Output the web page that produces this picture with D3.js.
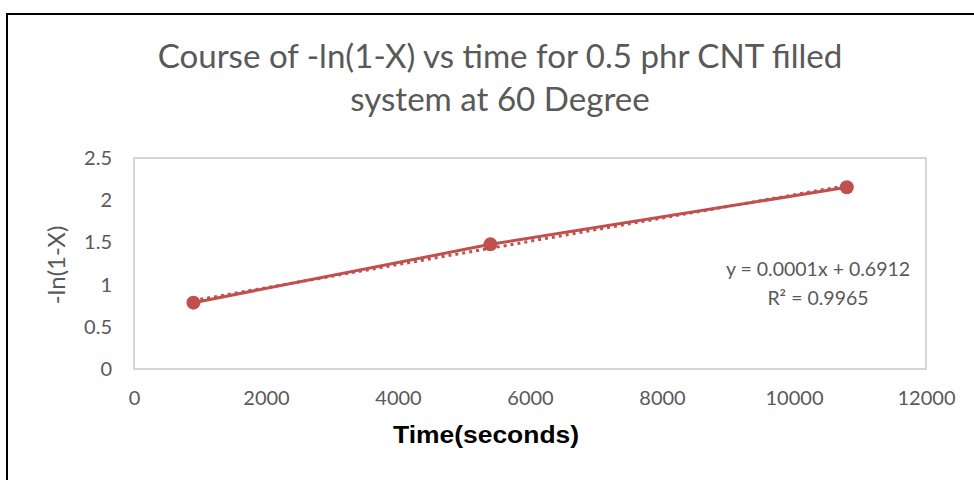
<!DOCTYPE html>
<html>
<head>
<meta charset="utf-8">
<script src="https://cdn.jsdelivr.net/npm/d3@7"></script>
<style>
  body { margin: 0; background: #fff; }
  svg { display: block; }
</style>
</head>
<body>
<svg id="chart" width="974" height="480"></svg>
<script>
const titleLines = ['Course of -ln(1-X) vs time for 0.5 phr CNT filled', 'system at 60 Degree'];
const timeSeconds = [900, 5400, 10800];
const lnValues = [0.786, 1.477, 2.153];
const xTicks = [0, 2000, 4000, 6000, 8000, 10000, 12000];
const yTicks = [0, 0.5, 1, 1.5, 2, 2.5];
const trendLabels = ['y = 0.0001x + 0.6912', 'R² = 0.9965'];

const red = '#C0504D';
const grey = '#595959';
const font = 'Lato, "Open Sans", sans-serif';

const svg = d3.select('#chart');
const plot = { left: 134, top: 158, right: 926, bottom: 369 };

// chart border
svg.append('rect')
    .attr('x', 7).attr('y', 14)
    .attr('width', 1000).attr('height', 500)
    .attr('fill', '#fff')
    .attr('stroke', '#000')
    .attr('stroke-width', 2);

const x = d3.scaleLinear().domain([0, 12000]).range([plot.left, plot.right]);
const y = d3.scaleLinear().domain([0, 2.5]).range([plot.bottom, plot.top]);

// plot area border
svg.append('rect')
    .attr('x', plot.left).attr('y', plot.top)
    .attr('width', plot.right - plot.left)
    .attr('height', plot.bottom - plot.top)
    .attr('fill', 'none')
    .attr('stroke', '#c8c8c8')
    .attr('stroke-width', 1.5);

// title, sized so line one spans about the same width as the original
const probe = svg.append('text')
    .attr('font-family', font)
    .attr('font-size', 100)
    .text(titleLines[0]);
const titleSize = 100 * 685 / probe.node().getComputedTextLength();
probe.remove();

svg.selectAll('.title')
    .data(titleLines)
    .enter().append('text')
    .attr('class', 'title')
    .attr('x', 500)
    .attr('y', (d, i) => 68 + i * 43)
    .attr('text-anchor', 'middle')
    .attr('font-family', font)
    .attr('font-size', titleSize)
    .attr('fill', grey)
    .text(d => d);

// axes
const xAxis = svg.append('g')
    .attr('transform', `translate(0,${plot.bottom})`)
    .call(d3.axisBottom(x).tickValues(xTicks).tickSize(0).tickPadding(22).tickFormat(d3.format('d')));
const yAxis = svg.append('g')
    .attr('transform', `translate(${plot.left},0)`)
    .call(d3.axisLeft(y).tickValues(yTicks).tickSize(0).tickPadding(22).tickFormat(d => String(d)));

[xAxis, yAxis].forEach(a => {
    a.select('.domain').remove();
    a.selectAll('text')
        .attr('font-family', font)
        .attr('font-size', 20)
        .attr('fill', grey);
});

// axis titles (x title is a little stretched in the original)
svg.append('text')
    .attr('transform', 'translate(486,443) scale(1.15,1)')
    .attr('text-anchor', 'middle')
    .attr('font-family', '"Liberation Sans", Arial, sans-serif')
    .attr('font-weight', 'bold')
    .attr('font-size', 23)
    .attr('fill', '#000')
    .text('Time(seconds)');

svg.append('text')
    .attr('transform', 'translate(65,265) rotate(-90)')
    .attr('text-anchor', 'middle')
    .attr('font-family', font)
    .attr('font-size', 24)
    .attr('fill', grey)
    .text('-ln(1-X)');

// linear trendline from least squares
const pts = timeSeconds.map((t, i) => [t, lnValues[i]]);
const mx = d3.mean(timeSeconds), my = d3.mean(lnValues);
const slope = d3.sum(pts, p => (p[0] - mx) * (p[1] - my)) / d3.sum(pts, p => (p[0] - mx) ** 2);
const intercept = my - slope * mx;
const ends = d3.extent(timeSeconds);

svg.append('line')
    .attr('x1', x(ends[0])).attr('y1', y(intercept + slope * ends[0]))
    .attr('x2', x(ends[1])).attr('y2', y(intercept + slope * ends[1]))
    .attr('stroke', red)
    .attr('stroke-width', 3)
    .attr('stroke-dasharray', '3,4');

const line = d3.line().x(d => x(d[0])).y(d => y(d[1]));
svg.append('path')
    .datum(pts)
    .attr('d', line)
    .attr('fill', 'none')
    .attr('stroke', red)
    .attr('stroke-width', 3);

svg.selectAll('.dot')
    .data(pts)
    .enter().append('circle')
    .attr('class', 'dot')
    .attr('cx', d => x(d[0]))
    .attr('cy', d => y(d[1]))
    .attr('r', 7)
    .attr('fill', red);

// trendline label
svg.selectAll('.trend-label')
    .data(trendLabels)
    .enter().append('text')
    .attr('class', 'trend-label')
    .attr('x', 818)
    .attr('y', (d, i) => 276 + i * 29)
    .attr('text-anchor', 'middle')
    .attr('font-family', font)
    .attr('font-size', 19.5)
    .attr('fill', grey)
    .text(d => d);
</script>
</body>
</html>
